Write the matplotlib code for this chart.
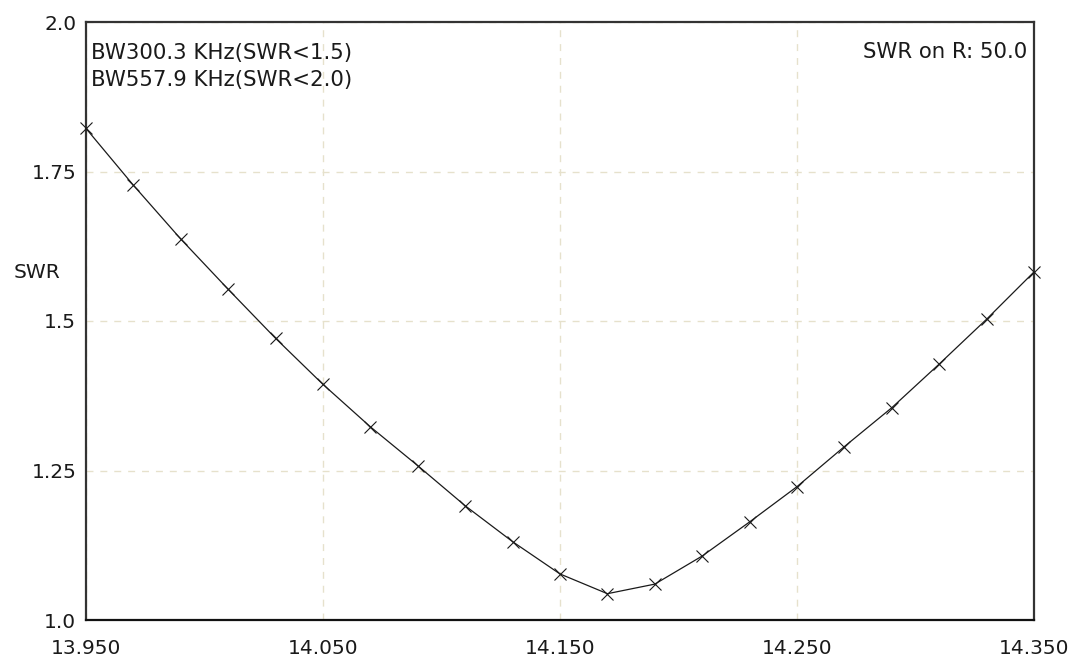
import matplotlib
matplotlib.use("Agg")
import matplotlib.pyplot as plt

freq = [13.95, 13.97, 13.99, 14.01, 14.03, 14.05, 14.07, 14.09, 14.11, 14.13, 14.15,
        14.17, 14.19, 14.21, 14.23, 14.25, 14.27, 14.29, 14.31, 14.33, 14.35]
swr = [1.822, 1.727, 1.637, 1.553, 1.471, 1.394, 1.323, 1.258, 1.191, 1.131, 1.077,
       1.044, 1.060, 1.107, 1.164, 1.223, 1.290, 1.355, 1.428, 1.503, 1.582]

x_ticks = [13.95, 14.05, 14.15, 14.25, 14.35]
x_ticklabels = ["13.950", "14.050", "14.150", "14.250", "14.350"]
y_ticks = [1.0, 1.25, 1.5, 1.75, 2.0]
y_ticklabels = ["1.0", "1.25", "1.5", "1.75", "2.0"]

bw_lines = ["BW300.3 KHz(SWR<1.5)", "BW557.9 KHz(SWR<2.0)"]
ref_text = "SWR on R: 50.0"

plt.rcParams["font.family"] = ["DejaVu Sans"]
FS = 14.5
FS_NOTE = 15.3

fig = plt.figure(figsize=(10.77, 6.67), dpi=100)
ax = fig.add_axes([86 / 1077, 1 - 620 / 667, (1034 - 86) / 1077, (620 - 22) / 667])

ax.plot(freq, swr, color="#1a1a1a", lw=0.9, marker="x", markersize=9,
        markeredgewidth=0.8, clip_on=False, zorder=3)

ax.set_xlim(13.95, 14.35)
ax.set_ylim(1.0, 2.0)
ax.set_xticks(x_ticks)
ax.set_xticklabels(x_ticklabels)
ax.set_yticks(y_ticks)
ax.set_yticklabels(y_ticklabels)
ax.tick_params(axis="both", length=0, labelsize=FS, colors="#1a1a1a")
ax.tick_params(axis="x", pad=14)
ax.tick_params(axis="y", pad=7)

ax.grid(True, color="#e6e1cc", linestyle=(0, (5, 5)), lw=1.0)

for side in ["top", "left", "right"]:
    ax.spines[side].set_color("#333333")
    ax.spines[side].set_linewidth(1.6)
ax.spines["bottom"].set_color("#111111")
ax.spines["bottom"].set_linewidth(1.6)

fig.text(91 / 1077, 1 - 53 / 667, bw_lines[0], fontsize=FS_NOTE, va="center", ha="left", color="#1a1a1a")
fig.text(91 / 1077, 1 - 80 / 667, bw_lines[1], fontsize=FS_NOTE, va="center", ha="left", color="#1a1a1a")
fig.text(1027 / 1077, 1 - 52 / 667, ref_text, fontsize=FS_NOTE, va="center", ha="right", color="#1a1a1a")
fig.text(14 / 1077, 1 - 272 / 667, "SWR", fontsize=FS, va="center", ha="left", color="#1a1a1a")

fig.savefig("out.png", dpi=100)
plt.close(fig)
